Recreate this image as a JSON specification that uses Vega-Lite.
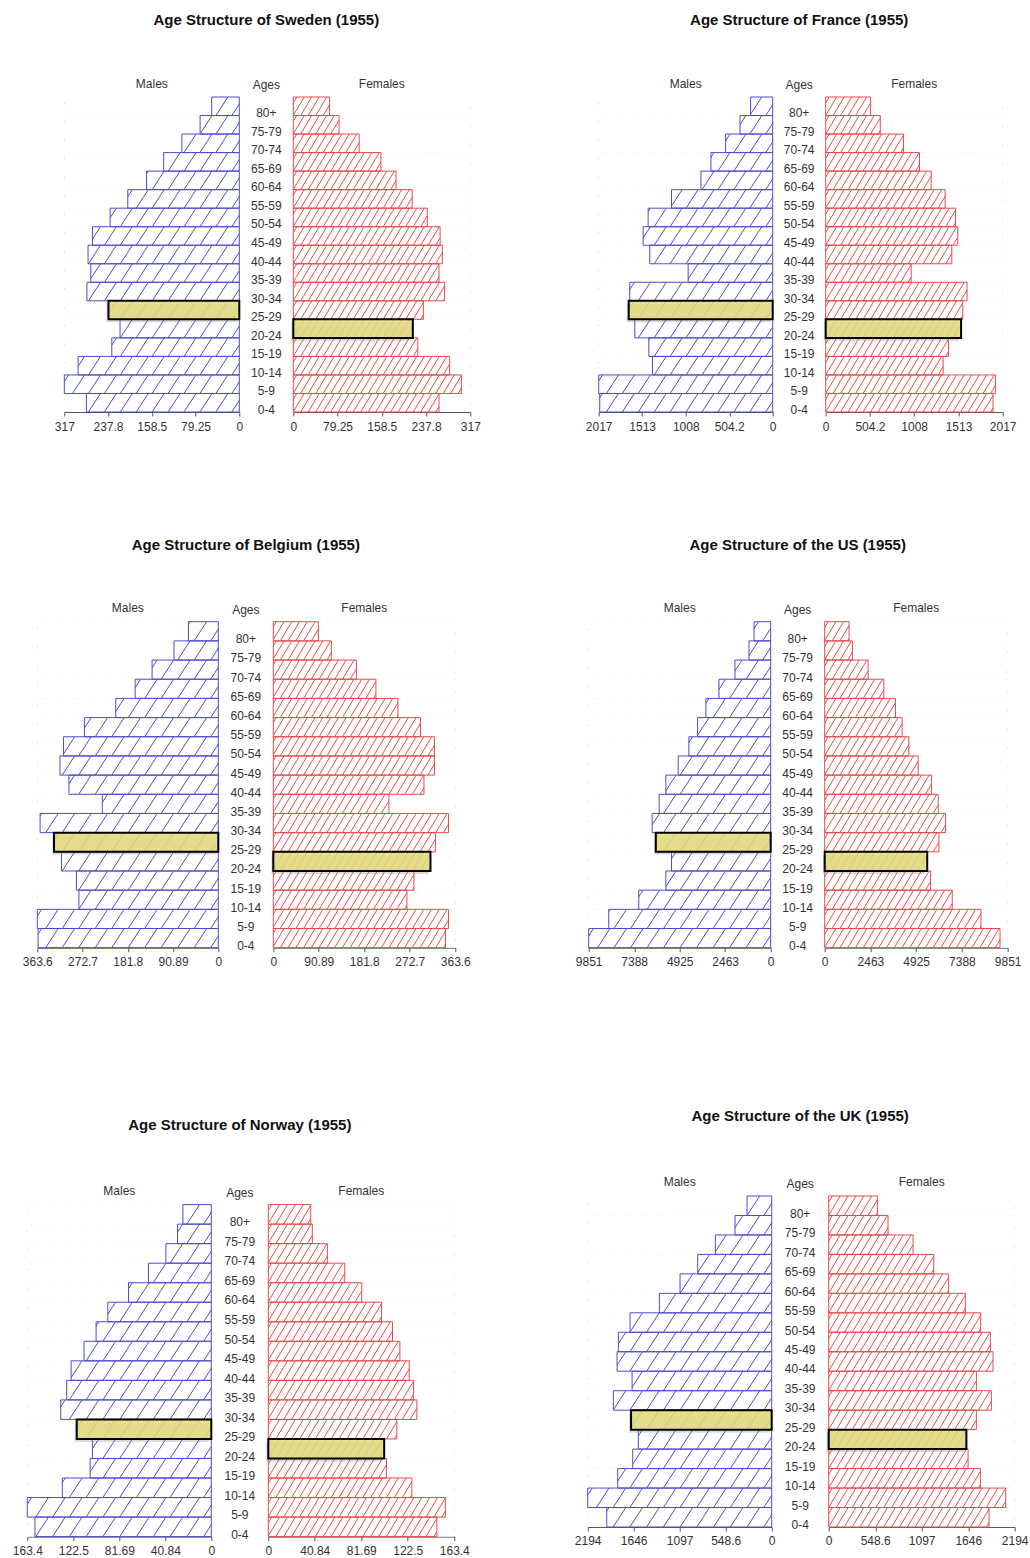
{
"$schema": "https://vega.github.io/schema/vega-lite/v6.json",
"padding": {"left": 11.3, "top": 13, "right": 2, "bottom": 5},
"config": {
 "font": "Liberation Sans",
 "view": {"stroke": null},
 "axis": {"grid": false, "labelFlush": false, "labelOverlap": false, "tickSize": 4, "domainColor": "#555", "tickColor": "#555", "labelColor": "#333", "labelFontSize": 12, "labelPadding": 5, "zindex": 1, "format": ".4~r", "title": null},
 "title": {"fontSize": 12, "fontWeight": "normal", "color": "#333", "offset": 6, "anchor": "middle", "subtitleFontSize": 12, "subtitleColor": "#333", "subtitlePadding": 52},
 "text": {"fontSize": 12, "color": "#333"}
},
"datasets": {
 "sweden": [
  {"age": "80+", "m": 50, "f": 65}, {"age": "75-79", "m": 71, "f": 82}, {"age": "70-74", "m": 104, "f": 118}, {"age": "65-69", "m": 137, "f": 157}, {"age": "60-64", "m": 168, "f": 184}, {"age": "55-59", "m": 202, "f": 213}, {"age": "50-54", "m": 234, "f": 240}, {"age": "45-49", "m": 266, "f": 263}, {"age": "40-44", "m": 274, "f": 267}, {"age": "35-39", "m": 269, "f": 261}, {"age": "30-34", "m": 276, "f": 271}, {"age": "25-29", "m": 237, "f": 233}, {"age": "20-24", "m": 216, "f": 214}, {"age": "15-19", "m": 231, "f": 223}, {"age": "10-14", "m": 292, "f": 280}, {"age": "5-9", "m": 317, "f": 301}, {"age": "0-4", "m": 277, "f": 261}
 ],
 "france": [
  {"age": "80+", "m": 256, "f": 512}, {"age": "75-79", "m": 379, "f": 622}, {"age": "70-74", "m": 546, "f": 887}, {"age": "65-69", "m": 716, "f": 1069}, {"age": "60-64", "m": 832, "f": 1202}, {"age": "55-59", "m": 1173, "f": 1361}, {"age": "50-54", "m": 1444, "f": 1479}, {"age": "45-49", "m": 1502, "f": 1505}, {"age": "40-44", "m": 1425, "f": 1437}, {"age": "35-39", "m": 980, "f": 974}, {"age": "30-34", "m": 1657, "f": 1611}, {"age": "25-29", "m": 1669, "f": 1562}, {"age": "20-24", "m": 1599, "f": 1543}, {"age": "15-19", "m": 1436, "f": 1399}, {"age": "10-14", "m": 1394, "f": 1338}, {"age": "5-9", "m": 2017, "f": 1934}, {"age": "0-4", "m": 2005, "f": 1907}
 ],
 "belgium": [
  {"age": "80+", "m": 60, "f": 90}, {"age": "75-79", "m": 89, "f": 116}, {"age": "70-74", "m": 133, "f": 166}, {"age": "65-69", "m": 167, "f": 205}, {"age": "60-64", "m": 206, "f": 249}, {"age": "55-59", "m": 269, "f": 294}, {"age": "50-54", "m": 311, "f": 322}, {"age": "45-49", "m": 318, "f": 322}, {"age": "40-44", "m": 300, "f": 301}, {"age": "35-39", "m": 233, "f": 231}, {"age": "30-34", "m": 358, "f": 350}, {"age": "25-29", "m": 330, "f": 324}, {"age": "20-24", "m": 315, "f": 314}, {"age": "15-19", "m": 285, "f": 281}, {"age": "10-14", "m": 280, "f": 267}, {"age": "5-9", "m": 363.6, "f": 350}, {"age": "0-4", "m": 362, "f": 344}
 ],
 "us": [
  {"age": "80+", "m": 904, "f": 1312}, {"age": "75-79", "m": 1175, "f": 1492}, {"age": "70-74", "m": 1934, "f": 2337}, {"age": "65-69", "m": 2802, "f": 3182}, {"age": "60-64", "m": 3507, "f": 3811}, {"age": "55-59", "m": 3958, "f": 4171}, {"age": "50-54", "m": 4429, "f": 4530}, {"age": "45-49", "m": 5007, "f": 5033}, {"age": "40-44", "m": 5676, "f": 5752}, {"age": "35-39", "m": 6037, "f": 6112}, {"age": "30-34", "m": 6417, "f": 6507}, {"age": "25-29", "m": 6218, "f": 6148}, {"age": "20-24", "m": 5368, "f": 5519}, {"age": "15-19", "m": 5676, "f": 5699}, {"age": "10-14", "m": 7140, "f": 6867}, {"age": "5-9", "m": 8767, "f": 8413}, {"age": "0-4", "m": 9851, "f": 9438}
 ],
 "norway": [
  {"age": "80+", "m": 25.2, "f": 37.3}, {"age": "75-79", "m": 30.0, "f": 38.7}, {"age": "70-74", "m": 40.3, "f": 51.9}, {"age": "65-69", "m": 55.8, "f": 67.2}, {"age": "60-64", "m": 73.5, "f": 82.1}, {"age": "55-59", "m": 91.9, "f": 99.4}, {"age": "50-54", "m": 102.3, "f": 109.1}, {"age": "45-49", "m": 113.0, "f": 115.6}, {"age": "40-44", "m": 124.5, "f": 123.8}, {"age": "35-39", "m": 128.4, "f": 127.6}, {"age": "30-34", "m": 133.7, "f": 130.5}, {"age": "25-29", "m": 119.5, "f": 112.9}, {"age": "20-24", "m": 105.6, "f": 101.8}, {"age": "15-19", "m": 107.6, "f": 103.8}, {"age": "10-14", "m": 132.3, "f": 126.1}, {"age": "5-9", "m": 163.4, "f": 155.5}, {"age": "0-4", "m": 156.6, "f": 148.1}
 ],
 "uk": [
  {"age": "80+", "m": 294, "f": 574}, {"age": "75-79", "m": 437, "f": 700}, {"age": "70-74", "m": 672, "f": 995}, {"age": "65-69", "m": 882, "f": 1239}, {"age": "60-64", "m": 1093, "f": 1415}, {"age": "55-59", "m": 1339, "f": 1612}, {"age": "50-54", "m": 1689, "f": 1793}, {"age": "45-49", "m": 1828, "f": 1907}, {"age": "40-44", "m": 1844, "f": 1938}, {"age": "35-39", "m": 1665, "f": 1742}, {"age": "30-34", "m": 1888, "f": 1919}, {"age": "25-29", "m": 1677, "f": 1742}, {"age": "20-24", "m": 1590, "f": 1624}, {"age": "15-19", "m": 1657, "f": 1644}, {"age": "10-14", "m": 1836, "f": 1789}, {"age": "5-9", "m": 2194, "f": 2088}, {"age": "0-4", "m": 1967, "f": 1891}
 ]
},
"spacing": 90.4,
"hconcat": [
 {"spacing": 149.6, "vconcat": [
  {"spacing": 105.7, "vconcat": [
   {"spacing": 0, "bounds": "flush", "hconcat": [
    {"width": 53, "height": 315, "data": {"values": [{}]}, "mark": {"type": "rect", "fill": "white"}},
    {"width": 175, "height": 315, "data": {"name": "sweden"}, "title": "Males",
     "encoding": {"y": {"field": "age", "type": "ordinal", "scale": {"domain": ["80+","75-79","70-74","65-69","60-64","55-59","50-54","45-49","40-44","35-39","30-34","25-29","20-24","15-19","10-14","5-9","0-4"], "paddingInner": 0, "paddingOuter": 0}, "axis": null}},
     "layer": [
      {"mark": {"type": "point", "shape": "M-12 1L-10.7 -1M-10.28 1L-8.98 -1M-8.56 1L-7.26 -1M-6.84 1L-5.54 -1M-5.12 1L-3.82 -1M-3.4 1L-2.1 -1M-1.68 1L-0.38 -1M0.04 1L1.34 -1M1.76 1L3.06 -1M3.48 1L4.78 -1M5.2 1L6.5 -1M6.92 1L8.22 -1M8.64 1L9.94 -1M10.36 1L11.66 -1", "size": 343, "filled": false, "color": "#4b4bcf", "stroke": "#4b4bcf", "strokeWidth": 1, "opacity": 1, "clip": true},
       "encoding": {"x": {"datum": 158.5, "type": "quantitative", "scale": {"domain": [0, 317], "reverse": true, "nice": false, "zero": true}, "axis": {"values": [0, 79.25, 158.5, 237.8, 317], "title": null}}}},
      {"mark": {"type": "bar", "fill": "white"}, "encoding": {"x": {"field": "m", "type": "quantitative", "title": null}, "x2": {"datum": 317}}},
      {"mark": {"type": "bar", "fillOpacity": 0, "stroke": "#4b4bcf", "strokeWidth": 1}, "encoding": {"x": {"field": "m", "type": "quantitative", "title": null}}},
      {"transform": [{"filter": "datum.age == '25-29'"}], "mark": {"type": "bar", "fill": "#888", "opacity": 0.3, "xOffset": -2, "yOffset": 3}, "encoding": {"x": {"field": "m", "type": "quantitative", "title": null}}},
      {"transform": [{"filter": "datum.age == '25-29'"}], "mark": {"type": "bar", "fill": "#e4dc7c", "fillOpacity": 0.85, "stroke": "#000", "strokeWidth": 2}, "encoding": {"x": {"field": "m", "type": "quantitative", "title": null}}}
     ]},
    {"width": 54, "height": 315, "data": {"name": "sweden"},
     "title": {"text": "Age Structure of Sweden (1955)", "subtitle": "Ages", "fontSize": 15, "fontWeight": "bold", "color": "#111"},
     "mark": {"type": "text", "dy": 7},
     "encoding": {"y": {"field": "age", "type": "ordinal", "scale": {"domain": ["80+","75-79","70-74","65-69","60-64","55-59","50-54","45-49","40-44","35-39","30-34","25-29","20-24","15-19","10-14","5-9","0-4"], "paddingInner": 0, "paddingOuter": 0}, "axis": null}, "text": {"field": "age"}}},
    {"width": 177, "height": 315, "data": {"name": "sweden"}, "title": "Females",
     "encoding": {"y": {"field": "age", "type": "ordinal", "scale": {"domain": ["80+","75-79","70-74","65-69","60-64","55-59","50-54","45-49","40-44","35-39","30-34","25-29","20-24","15-19","10-14","5-9","0-4"], "paddingInner": 0, "paddingOuter": 0}, "axis": null}},
     "layer": [
      {"mark": {"type": "point", "shape": "M-12 1L-10.8 -1M-11.19 1L-9.99 -1M-10.38 1L-9.18 -1M-9.57 1L-8.37 -1M-8.76 1L-7.56 -1M-7.95 1L-6.75 -1M-7.14 1L-5.94 -1M-6.33 1L-5.13 -1M-5.52 1L-4.32 -1M-4.71 1L-3.51 -1M-3.9 1L-2.7 -1M-3.09 1L-1.89 -1M-2.28 1L-1.08 -1M-1.47 1L-0.27 -1M-0.66 1L0.54 -1M0.15 1L1.35 -1M0.96 1L2.16 -1M1.77 1L2.97 -1M2.58 1L3.78 -1M3.39 1L4.59 -1M4.2 1L5.4 -1M5.01 1L6.21 -1M5.82 1L7.02 -1M6.63 1L7.83 -1M7.44 1L8.64 -1M8.25 1L9.45 -1M9.06 1L10.26 -1M9.87 1L11.07 -1M10.68 1L11.88 -1M11.49 1L12.69 -1", "size": 343, "filled": false, "color": "#e84a4a", "stroke": "#e84a4a", "strokeWidth": 1, "opacity": 1, "clip": true},
       "encoding": {"x": {"datum": 158.5, "type": "quantitative", "scale": {"domain": [0, 317], "nice": false, "zero": true}, "axis": {"values": [0, 79.25, 158.5, 237.8, 317], "title": null}}}},
      {"mark": {"type": "bar", "fill": "white"}, "encoding": {"x": {"field": "f", "type": "quantitative", "title": null}, "x2": {"datum": 317}}},
      {"mark": {"type": "bar", "fillOpacity": 0, "stroke": "#e84a4a", "strokeWidth": 1}, "encoding": {"x": {"field": "f", "type": "quantitative", "title": null}}},
      {"transform": [{"filter": "datum.age == '20-24'"}], "mark": {"type": "bar", "fill": "#888", "opacity": 0.3, "xOffset": -2, "yOffset": 3}, "encoding": {"x": {"field": "f", "type": "quantitative", "title": null}}},
      {"transform": [{"filter": "datum.age == '20-24'"}], "mark": {"type": "bar", "fill": "#e4dc7c", "fillOpacity": 0.85, "stroke": "#000", "strokeWidth": 2}, "encoding": {"x": {"field": "f", "type": "quantitative", "title": null}}}
     ]}
   ]},
   {"spacing": 0, "bounds": "flush", "hconcat": [
    {"width": 25.4, "height": 326, "data": {"values": [{}]}, "mark": {"type": "rect", "fill": "white"}},
    {"width": 181, "height": 326, "data": {"name": "belgium"}, "title": "Males",
     "encoding": {"y": {"field": "age", "type": "ordinal", "scale": {"domain": ["80+","75-79","70-74","65-69","60-64","55-59","50-54","45-49","40-44","35-39","30-34","25-29","20-24","15-19","10-14","5-9","0-4"], "paddingInner": 0, "paddingOuter": 0}, "axis": null}},
     "layer": [
      {"mark": {"type": "point", "shape": "M-12 1L-10.7 -1M-10.28 1L-8.98 -1M-8.56 1L-7.26 -1M-6.84 1L-5.54 -1M-5.12 1L-3.82 -1M-3.4 1L-2.1 -1M-1.68 1L-0.38 -1M0.04 1L1.34 -1M1.76 1L3.06 -1M3.48 1L4.78 -1M5.2 1L6.5 -1M6.92 1L8.22 -1M8.64 1L9.94 -1M10.36 1L11.66 -1", "size": 368, "filled": false, "color": "#4b4bcf", "stroke": "#4b4bcf", "strokeWidth": 1, "opacity": 1, "clip": true},
       "encoding": {"x": {"datum": 181.8, "type": "quantitative", "scale": {"domain": [0, 363.6], "reverse": true, "nice": false, "zero": true}, "axis": {"values": [0, 90.89, 181.8, 272.7, 363.6], "title": null}}}},
      {"mark": {"type": "bar", "fill": "white"}, "encoding": {"x": {"field": "m", "type": "quantitative", "title": null}, "x2": {"datum": 363.6}}},
      {"mark": {"type": "bar", "fillOpacity": 0, "stroke": "#4b4bcf", "strokeWidth": 1}, "encoding": {"x": {"field": "m", "type": "quantitative", "title": null}}},
      {"transform": [{"filter": "datum.age == '25-29'"}], "mark": {"type": "bar", "fill": "#888", "opacity": 0.3, "xOffset": -2, "yOffset": 3}, "encoding": {"x": {"field": "m", "type": "quantitative", "title": null}}},
      {"transform": [{"filter": "datum.age == '25-29'"}], "mark": {"type": "bar", "fill": "#e4dc7c", "fillOpacity": 0.85, "stroke": "#000", "strokeWidth": 2}, "encoding": {"x": {"field": "m", "type": "quantitative", "title": null}}}
     ]},
    {"width": 55, "height": 326, "data": {"name": "belgium"},
     "title": {"text": "Age Structure of Belgium (1955)", "subtitle": "Ages", "fontSize": 15, "fontWeight": "bold", "color": "#111"},
     "mark": {"type": "text", "dy": 8},
     "encoding": {"y": {"field": "age", "type": "ordinal", "scale": {"domain": ["80+","75-79","70-74","65-69","60-64","55-59","50-54","45-49","40-44","35-39","30-34","25-29","20-24","15-19","10-14","5-9","0-4"], "paddingInner": 0, "paddingOuter": 0}, "axis": null}, "text": {"field": "age"}}},
    {"width": 182, "height": 326, "data": {"name": "belgium"}, "title": "Females",
     "encoding": {"y": {"field": "age", "type": "ordinal", "scale": {"domain": ["80+","75-79","70-74","65-69","60-64","55-59","50-54","45-49","40-44","35-39","30-34","25-29","20-24","15-19","10-14","5-9","0-4"], "paddingInner": 0, "paddingOuter": 0}, "axis": null}},
     "layer": [
      {"mark": {"type": "point", "shape": "M-12 1L-10.8 -1M-11.19 1L-9.99 -1M-10.38 1L-9.18 -1M-9.57 1L-8.37 -1M-8.76 1L-7.56 -1M-7.95 1L-6.75 -1M-7.14 1L-5.94 -1M-6.33 1L-5.13 -1M-5.52 1L-4.32 -1M-4.71 1L-3.51 -1M-3.9 1L-2.7 -1M-3.09 1L-1.89 -1M-2.28 1L-1.08 -1M-1.47 1L-0.27 -1M-0.66 1L0.54 -1M0.15 1L1.35 -1M0.96 1L2.16 -1M1.77 1L2.97 -1M2.58 1L3.78 -1M3.39 1L4.59 -1M4.2 1L5.4 -1M5.01 1L6.21 -1M5.82 1L7.02 -1M6.63 1L7.83 -1M7.44 1L8.64 -1M8.25 1L9.45 -1M9.06 1L10.26 -1M9.87 1L11.07 -1M10.68 1L11.88 -1M11.49 1L12.69 -1", "size": 368, "filled": false, "color": "#e84a4a", "stroke": "#e84a4a", "strokeWidth": 1, "opacity": 1, "clip": true},
       "encoding": {"x": {"datum": 181.8, "type": "quantitative", "scale": {"domain": [0, 363.6], "nice": false, "zero": true}, "axis": {"values": [0, 90.89, 181.8, 272.7, 363.6], "title": null}}}},
      {"mark": {"type": "bar", "fill": "white"}, "encoding": {"x": {"field": "f", "type": "quantitative", "title": null}, "x2": {"datum": 363.6}}},
      {"mark": {"type": "bar", "fillOpacity": 0, "stroke": "#e84a4a", "strokeWidth": 1}, "encoding": {"x": {"field": "f", "type": "quantitative", "title": null}}},
      {"transform": [{"filter": "datum.age == '20-24'"}], "mark": {"type": "bar", "fill": "#888", "opacity": 0.3, "xOffset": -2, "yOffset": 3}, "encoding": {"x": {"field": "f", "type": "quantitative", "title": null}}},
      {"transform": [{"filter": "datum.age == '20-24'"}], "mark": {"type": "bar", "fill": "#e4dc7c", "fillOpacity": 0.85, "stroke": "#000", "strokeWidth": 2}, "encoding": {"x": {"field": "f", "type": "quantitative", "title": null}}}
     ]}
   ]}
  ]},
  {"spacing": 0, "bounds": "flush", "hconcat": [
    {"width": 16, "height": 332, "data": {"values": [{}]}, "mark": {"type": "rect", "fill": "white"}},
    {"width": 184, "height": 332, "data": {"name": "norway"}, "title": "Males",
     "encoding": {"y": {"field": "age", "type": "ordinal", "scale": {"domain": ["80+","75-79","70-74","65-69","60-64","55-59","50-54","45-49","40-44","35-39","30-34","25-29","20-24","15-19","10-14","5-9","0-4"], "paddingInner": 0, "paddingOuter": 0}, "axis": null}},
     "layer": [
      {"mark": {"type": "point", "shape": "M-12 1L-10.7 -1M-10.28 1L-8.98 -1M-8.56 1L-7.26 -1M-6.84 1L-5.54 -1M-5.12 1L-3.82 -1M-3.4 1L-2.1 -1M-1.68 1L-0.38 -1M0.04 1L1.34 -1M1.76 1L3.06 -1M3.48 1L4.78 -1M5.2 1L6.5 -1M6.92 1L8.22 -1M8.64 1L9.94 -1M10.36 1L11.66 -1", "size": 381, "filled": false, "color": "#4b4bcf", "stroke": "#4b4bcf", "strokeWidth": 1, "opacity": 1, "clip": true},
       "encoding": {"x": {"datum": 81.7, "type": "quantitative", "scale": {"domain": [0, 163.4], "reverse": true, "nice": false, "zero": true}, "axis": {"values": [0, 40.84, 81.69, 122.5, 163.4], "title": null}}}},
      {"mark": {"type": "bar", "fill": "white"}, "encoding": {"x": {"field": "m", "type": "quantitative", "title": null}, "x2": {"datum": 163.4}}},
      {"mark": {"type": "bar", "fillOpacity": 0, "stroke": "#4b4bcf", "strokeWidth": 1}, "encoding": {"x": {"field": "m", "type": "quantitative", "title": null}}},
      {"transform": [{"filter": "datum.age == '25-29'"}], "mark": {"type": "bar", "fill": "#888", "opacity": 0.3, "xOffset": -2, "yOffset": 3}, "encoding": {"x": {"field": "m", "type": "quantitative", "title": null}}},
      {"transform": [{"filter": "datum.age == '25-29'"}], "mark": {"type": "bar", "fill": "#e4dc7c", "fillOpacity": 0.85, "stroke": "#000", "strokeWidth": 2}, "encoding": {"x": {"field": "m", "type": "quantitative", "title": null}}}
     ]},
    {"width": 57, "height": 332, "data": {"name": "norway"},
     "title": {"text": "Age Structure of Norway (1955)", "subtitle": "Ages", "fontSize": 15, "fontWeight": "bold", "color": "#111", "subtitlePadding": 55},
     "mark": {"type": "text", "dy": 8},
     "encoding": {"y": {"field": "age", "type": "ordinal", "scale": {"domain": ["80+","75-79","70-74","65-69","60-64","55-59","50-54","45-49","40-44","35-39","30-34","25-29","20-24","15-19","10-14","5-9","0-4"], "paddingInner": 0, "paddingOuter": 0}, "axis": null}, "text": {"field": "age"}}},
    {"width": 186, "height": 332, "data": {"name": "norway"}, "title": "Females",
     "encoding": {"y": {"field": "age", "type": "ordinal", "scale": {"domain": ["80+","75-79","70-74","65-69","60-64","55-59","50-54","45-49","40-44","35-39","30-34","25-29","20-24","15-19","10-14","5-9","0-4"], "paddingInner": 0, "paddingOuter": 0}, "axis": null}},
     "layer": [
      {"mark": {"type": "point", "shape": "M-12 1L-10.8 -1M-11.19 1L-9.99 -1M-10.38 1L-9.18 -1M-9.57 1L-8.37 -1M-8.76 1L-7.56 -1M-7.95 1L-6.75 -1M-7.14 1L-5.94 -1M-6.33 1L-5.13 -1M-5.52 1L-4.32 -1M-4.71 1L-3.51 -1M-3.9 1L-2.7 -1M-3.09 1L-1.89 -1M-2.28 1L-1.08 -1M-1.47 1L-0.27 -1M-0.66 1L0.54 -1M0.15 1L1.35 -1M0.96 1L2.16 -1M1.77 1L2.97 -1M2.58 1L3.78 -1M3.39 1L4.59 -1M4.2 1L5.4 -1M5.01 1L6.21 -1M5.82 1L7.02 -1M6.63 1L7.83 -1M7.44 1L8.64 -1M8.25 1L9.45 -1M9.06 1L10.26 -1M9.87 1L11.07 -1M10.68 1L11.88 -1M11.49 1L12.69 -1", "size": 381, "filled": false, "color": "#e84a4a", "stroke": "#e84a4a", "strokeWidth": 1, "opacity": 1, "clip": true},
       "encoding": {"x": {"datum": 81.7, "type": "quantitative", "scale": {"domain": [0, 163.4], "nice": false, "zero": true}, "axis": {"values": [0, 40.84, 81.69, 122.5, 163.4], "title": null}}}},
      {"mark": {"type": "bar", "fill": "white"}, "encoding": {"x": {"field": "f", "type": "quantitative", "title": null}, "x2": {"datum": 163.4}}},
      {"mark": {"type": "bar", "fillOpacity": 0, "stroke": "#e84a4a", "strokeWidth": 1}, "encoding": {"x": {"field": "f", "type": "quantitative", "title": null}}},
      {"transform": [{"filter": "datum.age == '20-24'"}], "mark": {"type": "bar", "fill": "#888", "opacity": 0.3, "xOffset": -2, "yOffset": 3}, "encoding": {"x": {"field": "f", "type": "quantitative", "title": null}}},
      {"transform": [{"filter": "datum.age == '20-24'"}], "mark": {"type": "bar", "fill": "#e4dc7c", "fillOpacity": 0.85, "stroke": "#000", "strokeWidth": 2}, "encoding": {"x": {"field": "f", "type": "quantitative", "title": null}}}
     ]}
  ]}
 ]},
 {"spacing": 141, "vconcat": [
  {"spacing": 105.7, "vconcat": [
   {"spacing": 0, "bounds": "flush", "hconcat": [
    {"width": 27, "height": 315, "data": {"values": [{}]}, "mark": {"type": "rect", "fill": "white"}},
    {"width": 174, "height": 315, "data": {"name": "france"}, "title": "Males",
     "encoding": {"y": {"field": "age", "type": "ordinal", "scale": {"domain": ["80+","75-79","70-74","65-69","60-64","55-59","50-54","45-49","40-44","35-39","30-34","25-29","20-24","15-19","10-14","5-9","0-4"], "paddingInner": 0, "paddingOuter": 0}, "axis": null}},
     "layer": [
      {"mark": {"type": "point", "shape": "M-12 1L-10.7 -1M-10.28 1L-8.98 -1M-8.56 1L-7.26 -1M-6.84 1L-5.54 -1M-5.12 1L-3.82 -1M-3.4 1L-2.1 -1M-1.68 1L-0.38 -1M0.04 1L1.34 -1M1.76 1L3.06 -1M3.48 1L4.78 -1M5.2 1L6.5 -1M6.92 1L8.22 -1M8.64 1L9.94 -1M10.36 1L11.66 -1", "size": 343, "filled": false, "color": "#4b4bcf", "stroke": "#4b4bcf", "strokeWidth": 1, "opacity": 1, "clip": true},
       "encoding": {"x": {"datum": 1008.5, "type": "quantitative", "scale": {"domain": [0, 2017], "reverse": true, "nice": false, "zero": true}, "axis": {"values": [0, 504.2, 1008, 1513, 2017], "title": null}}}},
      {"mark": {"type": "bar", "fill": "white"}, "encoding": {"x": {"field": "m", "type": "quantitative", "title": null}, "x2": {"datum": 2017}}},
      {"mark": {"type": "bar", "fillOpacity": 0, "stroke": "#4b4bcf", "strokeWidth": 1}, "encoding": {"x": {"field": "m", "type": "quantitative", "title": null}}},
      {"transform": [{"filter": "datum.age == '25-29'"}], "mark": {"type": "bar", "fill": "#888", "opacity": 0.3, "xOffset": -2, "yOffset": 3}, "encoding": {"x": {"field": "m", "type": "quantitative", "title": null}}},
      {"transform": [{"filter": "datum.age == '25-29'"}], "mark": {"type": "bar", "fill": "#e4dc7c", "fillOpacity": 0.85, "stroke": "#000", "strokeWidth": 2}, "encoding": {"x": {"field": "m", "type": "quantitative", "title": null}}}
     ]},
    {"width": 53, "height": 315, "data": {"name": "france"},
     "title": {"text": "Age Structure of France (1955)", "subtitle": "Ages", "fontSize": 15, "fontWeight": "bold", "color": "#111"},
     "mark": {"type": "text", "dy": 7},
     "encoding": {"y": {"field": "age", "type": "ordinal", "scale": {"domain": ["80+","75-79","70-74","65-69","60-64","55-59","50-54","45-49","40-44","35-39","30-34","25-29","20-24","15-19","10-14","5-9","0-4"], "paddingInner": 0, "paddingOuter": 0}, "axis": null}, "text": {"field": "age"}}},
    {"width": 177, "height": 315, "data": {"name": "france"}, "title": "Females",
     "encoding": {"y": {"field": "age", "type": "ordinal", "scale": {"domain": ["80+","75-79","70-74","65-69","60-64","55-59","50-54","45-49","40-44","35-39","30-34","25-29","20-24","15-19","10-14","5-9","0-4"], "paddingInner": 0, "paddingOuter": 0}, "axis": null}},
     "layer": [
      {"mark": {"type": "point", "shape": "M-12 1L-10.8 -1M-11.19 1L-9.99 -1M-10.38 1L-9.18 -1M-9.57 1L-8.37 -1M-8.76 1L-7.56 -1M-7.95 1L-6.75 -1M-7.14 1L-5.94 -1M-6.33 1L-5.13 -1M-5.52 1L-4.32 -1M-4.71 1L-3.51 -1M-3.9 1L-2.7 -1M-3.09 1L-1.89 -1M-2.28 1L-1.08 -1M-1.47 1L-0.27 -1M-0.66 1L0.54 -1M0.15 1L1.35 -1M0.96 1L2.16 -1M1.77 1L2.97 -1M2.58 1L3.78 -1M3.39 1L4.59 -1M4.2 1L5.4 -1M5.01 1L6.21 -1M5.82 1L7.02 -1M6.63 1L7.83 -1M7.44 1L8.64 -1M8.25 1L9.45 -1M9.06 1L10.26 -1M9.87 1L11.07 -1M10.68 1L11.88 -1M11.49 1L12.69 -1", "size": 343, "filled": false, "color": "#e84a4a", "stroke": "#e84a4a", "strokeWidth": 1, "opacity": 1, "clip": true},
       "encoding": {"x": {"datum": 1008.5, "type": "quantitative", "scale": {"domain": [0, 2017], "nice": false, "zero": true}, "axis": {"values": [0, 504.2, 1008, 1513, 2017], "title": null}}}},
      {"mark": {"type": "bar", "fill": "white"}, "encoding": {"x": {"field": "f", "type": "quantitative", "title": null}, "x2": {"datum": 2017}}},
      {"mark": {"type": "bar", "fillOpacity": 0, "stroke": "#e84a4a", "strokeWidth": 1}, "encoding": {"x": {"field": "f", "type": "quantitative", "title": null}}},
      {"transform": [{"filter": "datum.age == '20-24'"}], "mark": {"type": "bar", "fill": "#888", "opacity": 0.3, "xOffset": -2, "yOffset": 3}, "encoding": {"x": {"field": "f", "type": "quantitative", "title": null}}},
      {"transform": [{"filter": "datum.age == '20-24'"}], "mark": {"type": "bar", "fill": "#e4dc7c", "fillOpacity": 0.85, "stroke": "#000", "strokeWidth": 2}, "encoding": {"x": {"field": "f", "type": "quantitative", "title": null}}}
     ]}
   ]},
   {"spacing": 0, "bounds": "flush", "hconcat": [
    {"width": 17, "height": 326, "data": {"values": [{}]}, "mark": {"type": "rect", "fill": "white"}},
    {"width": 182, "height": 326, "data": {"name": "us"}, "title": "Males",
     "encoding": {"y": {"field": "age", "type": "ordinal", "scale": {"domain": ["80+","75-79","70-74","65-69","60-64","55-59","50-54","45-49","40-44","35-39","30-34","25-29","20-24","15-19","10-14","5-9","0-4"], "paddingInner": 0, "paddingOuter": 0}, "axis": null}},
     "layer": [
      {"mark": {"type": "point", "shape": "M-12 1L-10.7 -1M-10.28 1L-8.98 -1M-8.56 1L-7.26 -1M-6.84 1L-5.54 -1M-5.12 1L-3.82 -1M-3.4 1L-2.1 -1M-1.68 1L-0.38 -1M0.04 1L1.34 -1M1.76 1L3.06 -1M3.48 1L4.78 -1M5.2 1L6.5 -1M6.92 1L8.22 -1M8.64 1L9.94 -1M10.36 1L11.66 -1", "size": 368, "filled": false, "color": "#4b4bcf", "stroke": "#4b4bcf", "strokeWidth": 1, "opacity": 1, "clip": true},
       "encoding": {"x": {"datum": 4925.5, "type": "quantitative", "scale": {"domain": [0, 9851], "reverse": true, "nice": false, "zero": true}, "axis": {"values": [0, 2463, 4925, 7388, 9851], "title": null}}}},
      {"mark": {"type": "bar", "fill": "white"}, "encoding": {"x": {"field": "m", "type": "quantitative", "title": null}, "x2": {"datum": 9851}}},
      {"mark": {"type": "bar", "fillOpacity": 0, "stroke": "#4b4bcf", "strokeWidth": 1}, "encoding": {"x": {"field": "m", "type": "quantitative", "title": null}}},
      {"transform": [{"filter": "datum.age == '25-29'"}], "mark": {"type": "bar", "fill": "#888", "opacity": 0.3, "xOffset": -2, "yOffset": 3}, "encoding": {"x": {"field": "m", "type": "quantitative", "title": null}}},
      {"transform": [{"filter": "datum.age == '25-29'"}], "mark": {"type": "bar", "fill": "#e4dc7c", "fillOpacity": 0.85, "stroke": "#000", "strokeWidth": 2}, "encoding": {"x": {"field": "m", "type": "quantitative", "title": null}}}
     ]},
    {"width": 54, "height": 326, "data": {"name": "us"},
     "title": {"text": "Age Structure of the US (1955)", "subtitle": "Ages", "fontSize": 15, "fontWeight": "bold", "color": "#111"},
     "mark": {"type": "text", "dy": 8},
     "encoding": {"y": {"field": "age", "type": "ordinal", "scale": {"domain": ["80+","75-79","70-74","65-69","60-64","55-59","50-54","45-49","40-44","35-39","30-34","25-29","20-24","15-19","10-14","5-9","0-4"], "paddingInner": 0, "paddingOuter": 0}, "axis": null}, "text": {"field": "age"}}},
    {"width": 183, "height": 326, "data": {"name": "us"}, "title": "Females",
     "encoding": {"y": {"field": "age", "type": "ordinal", "scale": {"domain": ["80+","75-79","70-74","65-69","60-64","55-59","50-54","45-49","40-44","35-39","30-34","25-29","20-24","15-19","10-14","5-9","0-4"], "paddingInner": 0, "paddingOuter": 0}, "axis": null}},
     "layer": [
      {"mark": {"type": "point", "shape": "M-12 1L-10.8 -1M-11.19 1L-9.99 -1M-10.38 1L-9.18 -1M-9.57 1L-8.37 -1M-8.76 1L-7.56 -1M-7.95 1L-6.75 -1M-7.14 1L-5.94 -1M-6.33 1L-5.13 -1M-5.52 1L-4.32 -1M-4.71 1L-3.51 -1M-3.9 1L-2.7 -1M-3.09 1L-1.89 -1M-2.28 1L-1.08 -1M-1.47 1L-0.27 -1M-0.66 1L0.54 -1M0.15 1L1.35 -1M0.96 1L2.16 -1M1.77 1L2.97 -1M2.58 1L3.78 -1M3.39 1L4.59 -1M4.2 1L5.4 -1M5.01 1L6.21 -1M5.82 1L7.02 -1M6.63 1L7.83 -1M7.44 1L8.64 -1M8.25 1L9.45 -1M9.06 1L10.26 -1M9.87 1L11.07 -1M10.68 1L11.88 -1M11.49 1L12.69 -1", "size": 368, "filled": false, "color": "#e84a4a", "stroke": "#e84a4a", "strokeWidth": 1, "opacity": 1, "clip": true},
       "encoding": {"x": {"datum": 4925.5, "type": "quantitative", "scale": {"domain": [0, 9851], "nice": false, "zero": true}, "axis": {"values": [0, 2463, 4925, 7388, 9851], "title": null}}}},
      {"mark": {"type": "bar", "fill": "white"}, "encoding": {"x": {"field": "f", "type": "quantitative", "title": null}, "x2": {"datum": 9851}}},
      {"mark": {"type": "bar", "fillOpacity": 0, "stroke": "#e84a4a", "strokeWidth": 1}, "encoding": {"x": {"field": "f", "type": "quantitative", "title": null}}},
      {"transform": [{"filter": "datum.age == '20-24'"}], "mark": {"type": "bar", "fill": "#888", "opacity": 0.3, "xOffset": -2, "yOffset": 3}, "encoding": {"x": {"field": "f", "type": "quantitative", "title": null}}},
      {"transform": [{"filter": "datum.age == '20-24'"}], "mark": {"type": "bar", "fill": "#e4dc7c", "fillOpacity": 0.85, "stroke": "#000", "strokeWidth": 2}, "encoding": {"x": {"field": "f", "type": "quantitative", "title": null}}}
     ]}
   ]}
  ]},
  {"spacing": 0, "bounds": "flush", "hconcat": [
    {"width": 16, "height": 331, "data": {"values": [{}]}, "mark": {"type": "rect", "fill": "white"}},
    {"width": 184, "height": 331, "data": {"name": "uk"}, "title": "Males",
     "encoding": {"y": {"field": "age", "type": "ordinal", "scale": {"domain": ["80+","75-79","70-74","65-69","60-64","55-59","50-54","45-49","40-44","35-39","30-34","25-29","20-24","15-19","10-14","5-9","0-4"], "paddingInner": 0, "paddingOuter": 0}, "axis": null}},
     "layer": [
      {"mark": {"type": "point", "shape": "M-12 1L-10.7 -1M-10.28 1L-8.98 -1M-8.56 1L-7.26 -1M-6.84 1L-5.54 -1M-5.12 1L-3.82 -1M-3.4 1L-2.1 -1M-1.68 1L-0.38 -1M0.04 1L1.34 -1M1.76 1L3.06 -1M3.48 1L4.78 -1M5.2 1L6.5 -1M6.92 1L8.22 -1M8.64 1L9.94 -1M10.36 1L11.66 -1", "size": 379, "filled": false, "color": "#4b4bcf", "stroke": "#4b4bcf", "strokeWidth": 1, "opacity": 1, "clip": true},
       "encoding": {"x": {"datum": 1097, "type": "quantitative", "scale": {"domain": [0, 2194], "reverse": true, "nice": false, "zero": true}, "axis": {"values": [0, 548.6, 1097, 1646, 2194], "title": null}}}},
      {"mark": {"type": "bar", "fill": "white"}, "encoding": {"x": {"field": "m", "type": "quantitative", "title": null}, "x2": {"datum": 2194}}},
      {"mark": {"type": "bar", "fillOpacity": 0, "stroke": "#4b4bcf", "strokeWidth": 1}, "encoding": {"x": {"field": "m", "type": "quantitative", "title": null}}},
      {"transform": [{"filter": "datum.age == '25-29'"}], "mark": {"type": "bar", "fill": "#888", "opacity": 0.3, "xOffset": -2, "yOffset": 3}, "encoding": {"x": {"field": "m", "type": "quantitative", "title": null}}},
      {"transform": [{"filter": "datum.age == '25-29'"}], "mark": {"type": "bar", "fill": "#e4dc7c", "fillOpacity": 0.85, "stroke": "#000", "strokeWidth": 2}, "encoding": {"x": {"field": "m", "type": "quantitative", "title": null}}}
     ]},
    {"width": 57, "height": 331, "data": {"name": "uk"},
     "title": {"text": "Age Structure of the UK (1955)", "subtitle": "Ages", "fontSize": 15, "fontWeight": "bold", "color": "#111", "subtitlePadding": 55},
     "mark": {"type": "text", "dy": 8},
     "encoding": {"y": {"field": "age", "type": "ordinal", "scale": {"domain": ["80+","75-79","70-74","65-69","60-64","55-59","50-54","45-49","40-44","35-39","30-34","25-29","20-24","15-19","10-14","5-9","0-4"], "paddingInner": 0, "paddingOuter": 0}, "axis": null}, "text": {"field": "age"}}},
    {"width": 186, "height": 331, "data": {"name": "uk"}, "title": "Females",
     "encoding": {"y": {"field": "age", "type": "ordinal", "scale": {"domain": ["80+","75-79","70-74","65-69","60-64","55-59","50-54","45-49","40-44","35-39","30-34","25-29","20-24","15-19","10-14","5-9","0-4"], "paddingInner": 0, "paddingOuter": 0}, "axis": null}},
     "layer": [
      {"mark": {"type": "point", "shape": "M-12 1L-10.8 -1M-11.19 1L-9.99 -1M-10.38 1L-9.18 -1M-9.57 1L-8.37 -1M-8.76 1L-7.56 -1M-7.95 1L-6.75 -1M-7.14 1L-5.94 -1M-6.33 1L-5.13 -1M-5.52 1L-4.32 -1M-4.71 1L-3.51 -1M-3.9 1L-2.7 -1M-3.09 1L-1.89 -1M-2.28 1L-1.08 -1M-1.47 1L-0.27 -1M-0.66 1L0.54 -1M0.15 1L1.35 -1M0.96 1L2.16 -1M1.77 1L2.97 -1M2.58 1L3.78 -1M3.39 1L4.59 -1M4.2 1L5.4 -1M5.01 1L6.21 -1M5.82 1L7.02 -1M6.63 1L7.83 -1M7.44 1L8.64 -1M8.25 1L9.45 -1M9.06 1L10.26 -1M9.87 1L11.07 -1M10.68 1L11.88 -1M11.49 1L12.69 -1", "size": 379, "filled": false, "color": "#e84a4a", "stroke": "#e84a4a", "strokeWidth": 1, "opacity": 1, "clip": true},
       "encoding": {"x": {"datum": 1097, "type": "quantitative", "scale": {"domain": [0, 2194], "nice": false, "zero": true}, "axis": {"values": [0, 548.6, 1097, 1646, 2194], "title": null}}}},
      {"mark": {"type": "bar", "fill": "white"}, "encoding": {"x": {"field": "f", "type": "quantitative", "title": null}, "x2": {"datum": 2194}}},
      {"mark": {"type": "bar", "fillOpacity": 0, "stroke": "#e84a4a", "strokeWidth": 1}, "encoding": {"x": {"field": "f", "type": "quantitative", "title": null}}},
      {"transform": [{"filter": "datum.age == '20-24'"}], "mark": {"type": "bar", "fill": "#888", "opacity": 0.3, "xOffset": -2, "yOffset": 3}, "encoding": {"x": {"field": "f", "type": "quantitative", "title": null}}},
      {"transform": [{"filter": "datum.age == '20-24'"}], "mark": {"type": "bar", "fill": "#e4dc7c", "fillOpacity": 0.85, "stroke": "#000", "strokeWidth": 2}, "encoding": {"x": {"field": "f", "type": "quantitative", "title": null}}}
     ]}
  ]}
 ]}
]
}
